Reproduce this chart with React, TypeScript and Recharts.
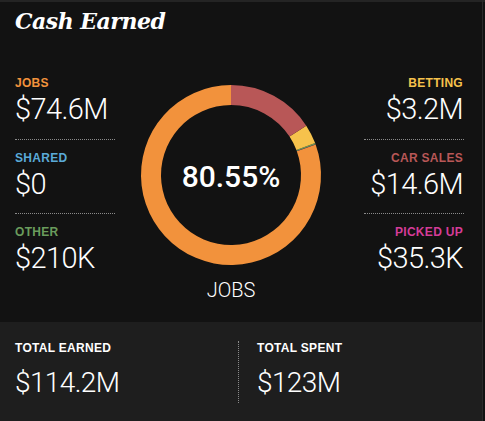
import React from "react";
import { PieChart, Pie, Cell } from "recharts";

// slice order: counter-clockwise from 12 o'clock
const sliceNames = ["JOBS", "SHARED", "PICKED UP", "OTHER", "BETTING", "CAR SALES"];
const sliceValues = [74.6, 0, 0.0353, 0.21, 3.2, 14.6];
const sliceColors = ["#f2923c", "#5aaad8", "#d43c98", "#6a9c5c", "#f6c24c", "#b85757"];

const leftNames = ["JOBS", "SHARED", "OTHER"];
const leftValues = ["$74.6M", "$0", "$210K"];
const leftColors = ["#f2923c", "#5aaad8", "#6a9c5c"];

const rightNames = ["BETTING", "CAR SALES", "PICKED UP"];
const rightValues = ["$3.2M", "$14.6M", "$35.3K"];
const rightColors = ["#f6c24c", "#b85757", "#d43c98"];

const centerValue = "80.55%";
const centerLabel = "JOBS";

const totalNames = ["TOTAL EARNED", "TOTAL SPENT"];
const totalValues = ["$114.2M", "$123M"];

const data = sliceNames.map((name, i) => ({ name, value: sliceValues[i] }));

const labelFont = "'Liberation Sans', Arial, sans-serif";
const valueFont = "Roboto, 'Liberation Sans', sans-serif";

const labelStyle = (color: string): React.CSSProperties => ({
	fontFamily: labelFont,
	fontWeight: 700,
	fontSize: 12,
	color,
	lineHeight: "14px",
	letterSpacing: 0.3,
});

const valueStyle: React.CSSProperties = {
	fontFamily: valueFont,
	fontWeight: 300,
	fontSize: 29,
	color: "#ffffff",
	lineHeight: "32px",
	letterSpacing: -0.6,
};

const Block: React.FC<{ name: string; value: string; color: string; top: number; align: "left" | "right" }> = ({
	name,
	value,
	color,
	top,
	align,
}) => (
	<div
		style={{
			position: "absolute",
			top,
			left: align === "left" ? 15 : undefined,
			right: align === "right" ? 22 : undefined,
			textAlign: align,
		}}
	>
		<div style={labelStyle(color)}>{name}</div>
		<div style={{ ...valueStyle, marginTop: 3 }}>{value}</div>
	</div>
);

const Sep: React.FC<{ left: number; top: number }> = ({ left, top }) => (
	<div
		style={{
			position: "absolute",
			left,
			top,
			width: 100,
			borderTop: "1px dotted #8a8a8a",
		}}
	/>
);

const App: React.FC = () => {
	const tops = [76, 151, 225];
	return (
		<div
			style={{
				position: "absolute",
				left: 0,
				top: 0,
				width: 485,
				height: 421,
				background: "#121212",
				overflow: "hidden",
			}}
		>
			<div style={{ position: "absolute", left: 0, top: 0, width: 485, height: 2, background: "#242424" }} />
			<div style={{ position: "absolute", left: 482, top: 0, width: 1, height: 421, background: "#2a2a2a" }} />
			<div
				style={{
					position: "absolute",
					left: 15,
					top: 8,
					fontFamily: "'DejaVu Serif', serif",
					fontStyle: "italic",
					fontWeight: 700,
					fontSize: 22,
					color: "#ffffff",
					letterSpacing: -0.5,
				}}
			>
				Cash Earned
			</div>

			{leftNames.map((n, i) => (
				<Block key={n} name={n} value={leftValues[i]} color={leftColors[i]} top={tops[i]} align="left" />
			))}
			{rightNames.map((n, i) => (
				<Block key={n} name={n} value={rightValues[i]} color={rightColors[i]} top={tops[i]} align="right" />
			))}
			<Sep left={15} top={139} />
			<Sep left={15} top={213} />
			<Sep left={364} top={139} />
			<Sep left={364} top={213} />

			<div style={{ position: "absolute", left: 0, top: 0 }}>
				<PieChart width={485} height={320} margin={{ top: 0, right: 0, bottom: 0, left: 0 }}>
					<Pie
						data={data}
						dataKey="value"
						nameKey="name"
						cx={231}
						cy={175}
						innerRadius={70}
						outerRadius={90}
						startAngle={90}
						endAngle={450}
						stroke="none"
						isAnimationActive={false}
					>
						{data.map((d, i) => (
							<Cell key={d.name} fill={sliceColors[i]} />
						))}
					</Pie>
				</PieChart>
			</div>
			<div
				style={{
					position: "absolute",
					left: 131,
					width: 200,
					top: 159,
					textAlign: "center",
					fontFamily: valueFont,
					fontWeight: 500,
					fontSize: 30,
					color: "#ffffff",
					lineHeight: "36px",
				}}
			>
				{centerValue}
			</div>
			<div
				style={{
					position: "absolute",
					left: 131,
					width: 200,
					top: 278,
					textAlign: "center",
					fontFamily: valueFont,
					fontWeight: 300,
					fontSize: 20,
					color: "#ffffff",
					lineHeight: "24px",
				}}
			>
				{centerLabel}
			</div>

			<div style={{ position: "absolute", left: 0, top: 322, width: 482, height: 99, background: "#1e1e1e" }}>
				{totalNames.map((n, i) => (
					<div key={n} style={{ position: "absolute", left: i === 0 ? 15 : 257, top: 19 }}>
						<div style={labelStyle("#ffffff")}>{n}</div>
						<div style={{ ...valueStyle, fontSize: 28, marginTop: 12 }}>{totalValues[i]}</div>
					</div>
				))}
				<div
					style={{
						position: "absolute",
						left: 238,
						top: 19,
						height: 62,
						borderLeft: "1px dotted #8a8a8a",
					}}
				/>
			</div>
		</div>
	);
};

export default App;
